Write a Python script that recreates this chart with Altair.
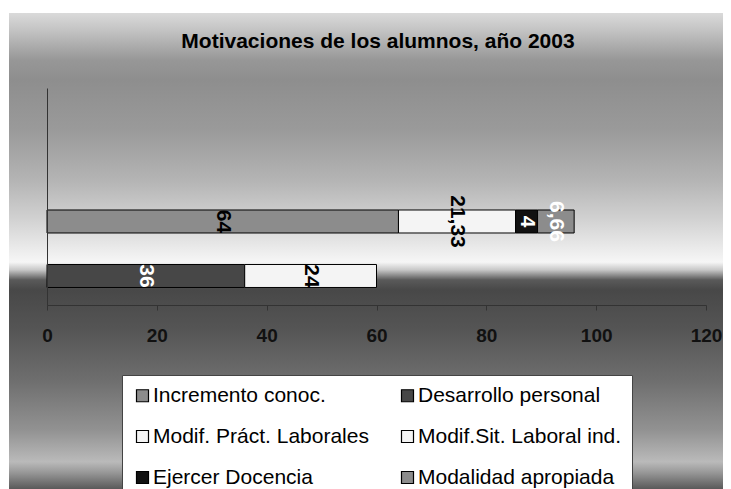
import altair as alt
import pandas as pd

# ---- data ----
grupos = ["Grupo 1", "Grupo 1", "Grupo 1", "Grupo 1", "Grupo 2", "Grupo 2"]
categorias = ["Incremento conoc.", "Modif. Práct. Laborales", "Ejercer Docencia",
              "Modalidad apropiada", "Desarrollo personal", "Modif.Sit. Laboral ind."]
valores = [64, 21.33, 4, 6.66, 36, 24]
orden = [1, 2, 3, 4, 1, 2]

dominio_y = ["_a", "_b", "Grupo 1", "Grupo 2"]  # two empty slots above the bars
# legend order (filled column by column: 3 rows x 2 columns)
leyenda = ["Incremento conoc.", "Modif. Práct. Laborales", "Ejercer Docencia",
           "Desarrollo personal", "Modif.Sit. Laboral ind.", "Modalidad apropiada"]
colores = ["#8c8c8c", "#f4f4f4", "#111111", "#474747", "#f4f4f4", "#8c8c8c"]
etiqueta_blanca = ["Ejercer Docencia", "Modalidad apropiada", "Desarrollo personal"]
ticks_x = [0, 20, 40, 60, 80, 100, 120]
titulo = "Motivaciones de los alumnos, año 2003"

df = pd.DataFrame({"grupo": grupos, "categoria": categorias,
                   "valor": valores, "orden": orden})

FONT = "Liberation Sans"

base = alt.Chart(df).transform_stack(
    stack="valor", groupby=["grupo"], as_=["x0", "x1"],
    sort=[alt.SortField("orden", order="ascending")]
).transform_calculate(
    mid="(datum.x0 + datum.x1) / 2",
    etiqueta="replace(format(datum.valor, '.4~'), '.', ',')"
)

yscale = alt.Scale(domain=dominio_y, paddingInner=0.578, paddingOuter=0.28, align=0.426)

bars = base.mark_bar(stroke="#000000", strokeWidth=1).encode(
    x=alt.X("x0:Q", scale=alt.Scale(domain=[0, 120]),
            axis=alt.Axis(values=ticks_x, title=None, grid=False, domainColor="#333333",
                          tickColor="#333333", tickSize=5, labelPadding=16, zindex=1,
                          labelFlush=False, labelBound=False,
                          labelFont=FONT, labelFontSize=19, labelFontWeight="bold",
                          labelColor="#111111")),
    x2="x1:Q",
    y=alt.Y("grupo:N", scale=yscale,
            axis=alt.Axis(labels=False, ticks=False, title=None, domainColor="#333333",
                          domainWidth=1, grid=False, zindex=1)),
    color=alt.Color("categoria:N",
                    scale=alt.Scale(domain=leyenda, range=colores),
                    legend=alt.Legend(title=None, orient="none", legendX=75, legendY=287,
                                      columns=2, columnPadding=28, rowPadding=19,
                                      fillColor="#ffffff", strokeColor="#444444",
                                      padding=10, symbolType="square", symbolSize=144,
                                      symbolStrokeColor="#000000", symbolStrokeWidth=1.2,
                                      labelFont=FONT, labelFontSize=21, labelColor="#000000",
                                      labelLimit=400, labelOffset=0)),
)

labels = base.mark_text(angle=90, align="center", baseline="middle",
                        font=FONT, fontSize=21, fontWeight="bold").encode(
    x=alt.X("mid:Q"),
    y=alt.Y("grupo:N", scale=yscale),
    text="etiqueta:N",
    color=alt.condition(
        alt.FieldOneOfPredicate(field="categoria", oneOf=etiqueta_blanca),
        alt.value("#ffffff"), alt.value("#000000")),
)

grad = alt.LinearGradient(
    gradient="linear", x1=0, y1=0, x2=0, y2=1,
    stops=[
        alt.GradientStop(offset=0.0, color="#dadada"),
        alt.GradientStop(offset=0.035, color="#c4c4c4"),
        alt.GradientStop(offset=0.098, color="#979797"),
        alt.GradientStop(offset=0.14, color="#8e8e8e"),
        alt.GradientStop(offset=0.244, color="#9a9a9a"),
        alt.GradientStop(offset=0.348, color="#b4b4b4"),
        alt.GradientStop(offset=0.431, color="#d2d2d2"),
        alt.GradientStop(offset=0.494, color="#ececec"),
        alt.GradientStop(offset=0.519, color="#f6f6f6"),
        alt.GradientStop(offset=0.535, color="#c8c8c8"),
        alt.GradientStop(offset=0.556, color="#5a5a5a"),
        alt.GradientStop(offset=0.577, color="#484848"),
        alt.GradientStop(offset=0.66, color="#555555"),
        alt.GradientStop(offset=0.765, color="#6e6e6e"),
        alt.GradientStop(offset=0.869, color="#929292"),
        alt.GradientStop(offset=0.935, color="#bababa"),
        alt.GradientStop(offset=0.956, color="#9a9a9a"),
        alt.GradientStop(offset=1.0, color="#4a4a4a"),
    ])

bg = alt.Chart(pd.DataFrame({"bg": [0]})).mark_rect(fill=grad).encode(
    x=alt.value(-38), x2=alt.value(700), y=alt.value(-75), y2=alt.value(405)
)

title = alt.Chart(pd.DataFrame({"t": [titulo]})).mark_text(
    font=FONT, fontSize=21, fontWeight="bold", color="#000000",
    align="center", baseline="middle"
).encode(x=alt.value(331), y=alt.value(-46), text="t:N")

chart = alt.layer(bg, bars, labels, title).properties(
    width=659, height=217,
    autosize=alt.AutoSizeParams(type="none"),
    padding={"left": 39, "top": 80, "right": 17, "bottom": 184},
).configure_view(stroke=None)

chart.save("out.html", embed_options={"renderer": "svg", "actions": False})
